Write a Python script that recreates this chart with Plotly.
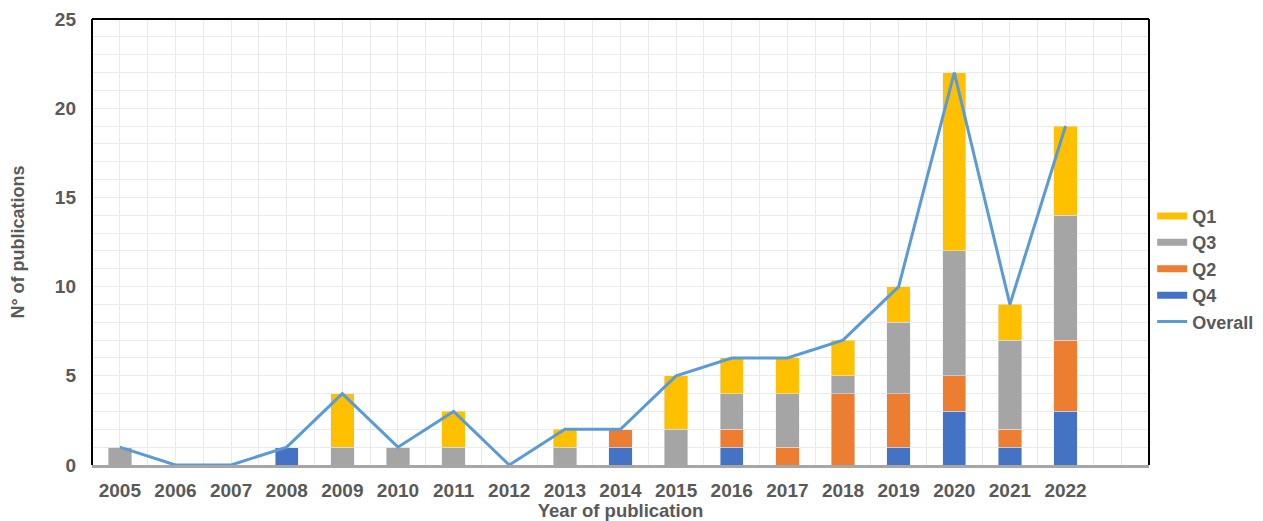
import plotly.graph_objects as go

years = [2005, 2006, 2007, 2008, 2009, 2010, 2011, 2012, 2013,
         2014, 2015, 2016, 2017, 2018, 2019, 2020, 2021, 2022]
q4 = [0, 0, 0, 1, 0, 0, 0, 0, 0, 1, 0, 1, 0, 0, 1, 3, 1, 3]
q2 = [0, 0, 0, 0, 0, 0, 0, 0, 0, 1, 0, 1, 1, 4, 3, 2, 1, 4]
q3 = [1, 0, 0, 0, 1, 1, 1, 0, 1, 0, 2, 2, 3, 1, 4, 7, 5, 7]
q1 = [0, 0, 0, 0, 3, 0, 2, 0, 1, 0, 3, 2, 2, 2, 2, 10, 2, 5]
overall = [1, 0, 0, 1, 4, 1, 3, 0, 2, 2, 5, 6, 6, 7, 10, 22, 9, 19]

FONT = "Liberation Sans, Arial, sans-serif"
TXT = "#595959"

series = [("Q4", q4, "#4472C4", 4), ("Q2", q2, "#ED7D31", 3),
          ("Q3", q3, "#A5A5A5", 2), ("Q1", q1, "#FFC000", 1)]

fig = go.Figure()
for name, vals, col, rank in series:
    fig.add_trace(go.Bar(x=years, y=vals, name=name, marker_color=col,
                         legendgroup=name, showlegend=False))
    # legend swatch drawn as a wide thick line (like the reference's flat rectangles)
    fig.add_trace(go.Scatter(x=[None], y=[None], mode="lines", name=name,
                             legendgroup=name, legendrank=rank,
                             line=dict(color=col, width=7)))
fig.add_trace(go.Scatter(x=years, y=overall, name="Overall", mode="lines",
                         line=dict(color="#5B9BD5", width=3), legendrank=5))

fig.update_layout(
    width=1255, height=513,
    barmode="stack", bargap=0.58,
    paper_bgcolor="white", plot_bgcolor="white",
    margin=dict(l=84, r=114, t=11, b=56, autoexpand=False),
    font=dict(family=FONT, color=TXT, size=18),
    legend=dict(x=1.003, xanchor="left", y=0.44, yanchor="middle", traceorder="normal",
                font=dict(family=FONT, size=18, color=TXT, weight="bold"),
                bgcolor="rgba(0,0,0,0)", tracegroupgap=0, itemwidth=30),
    xaxis=dict(range=[2004.5, 2023.5], tickvals=years, ticktext=[str(y) for y in years],
               tickfont=dict(family=FONT, size=19, color=TXT, weight="bold"),
               showgrid=True, gridcolor="#EAEAEA", gridwidth=1,
               minor=dict(dtick=0.5, tick0=2004.5, showgrid=True, gridcolor="#EAEAEA", gridwidth=1),
               showline=True, linecolor="#A6A6A6", linewidth=3,
               ticks="", zeroline=False, automargin=False, ticklabelstandoff=6,
               title=dict(text="Year of publication", standoff=4,
                          font=dict(family=FONT, size=18.5, color=TXT, weight="bold"))),
    yaxis=dict(range=[0, 25], dtick=5, tick0=0,
               tickfont=dict(family=FONT, size=19, color=TXT, weight="bold"),
               showgrid=True, gridcolor="#EAEAEA", gridwidth=1,
               minor=dict(dtick=1, showgrid=True, gridcolor="#EAEAEA", gridwidth=1),
               showline=False, zeroline=False, ticks="", ticklen=0,
               automargin=False, ticklabelstandoff=15,
               title=dict(text="N° of publications", standoff=38,
                          font=dict(family=FONT, size=18, color=TXT, weight="bold"))),
)

# black frame on left, top and right
for (x0, y0, x1, y1) in [(0, 0, 0, 1), (0, 1, 1, 1), (1, 1, 1, 0)]:
    fig.add_shape(type="line", xref="paper", yref="paper", x0=x0, y0=y0, x1=x1, y1=y1,
                  line=dict(color="black", width=2), layer="above")

fig.write_html("out.html")
